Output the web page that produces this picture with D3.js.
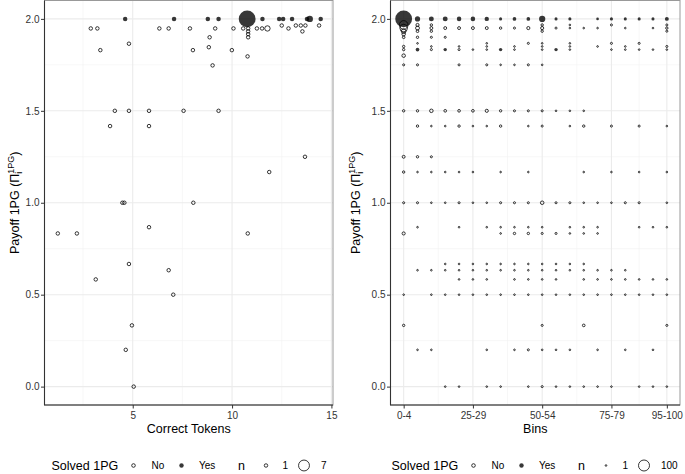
<!DOCTYPE html>
<html><head><meta charset="utf-8">
<script src="https://cdn.jsdelivr.net/npm/d3@7"></script>
<style>body{margin:0;background:#fff} text{font-family:"Liberation Sans",Arial,sans-serif}</style>
</head><body><svg id="c" width="685" height="474"></svg>
<script>
// ---------- data ----------
const yTicks = [0, 0.5, 1, 1.5, 2];
const yMinor = [0.25, 0.75, 1.25, 1.75];
const leftXTicks = [5, 10, 15];
const leftXMinor = [2.5, 7.5, 12.5];
const binLabels = ["0-4","5-9","10-14","15-19","20-24","25-29","30-34","35-39","40-44","45-49",
  "50-54","55-59","60-64","65-69","70-74","75-79","80-84","85-89","90-94","95-100"];
const rightTickIdx = [0, 5, 10, 15, 19];
const rightXMinor = [2.5, 7.5, 12.5, 17];
const legendLeftN = [1, 7];
const legendRightN = [1, 100];

// left panel: [correct tokens, payoff, n, solved(1=yes)]
const leftPoints = [
  [4.62,2,1,1],[7.08,2,1,1],[8.78,2,1,1],[9.32,2,1,1],[10.76,2,14,1],[11.53,2,1,1],
  [12.37,2,1,1],[12.57,2,1,1],[13.02,2,1,1],[13.77,2,1,1],[13.91,2,2,1],[14.46,2,1,1],
  [2.89,1.948,1,0],[3.22,1.948,1,0],[6.34,1.948,1,0],[6.81,1.948,1,0],[7.88,1.948,1,0],
  [9.15,1.948,1,0],[10.07,1.948,1,0],[10.56,1.948,1,0],[10.81,1.948,1,0],[11.25,1.948,1,0],
  [11.51,1.948,1,0],[11.78,1.948,2,0],[12.84,1.948,1,0],
  [12.5,1.964,1,0],[13.21,1.964,1,0],[13.46,1.964,1,0],[13.69,1.964,1,0],[14.38,1.964,1,0],
  [13.54,1.932,1,0],[10.81,1.932,1,0],[10.81,1.917,1,0],[10.81,1.9,1,0],[8.87,1.9,1,0],
  [4.81,1.865,1,0],[8.83,1.846,1,0],[3.37,1.83,1,0],[8.03,1.83,1,0],[9.99,1.83,1,0],
  [10.78,1.796,1,0],[9.02,1.747,1,0],
  [4.10,1.5,1,0],[4.81,1.5,1,0],[5.82,1.5,1,0],[7.56,1.5,1,0],[9.32,1.5,1,0],
  [3.86,1.417,1,0],[5.82,1.417,1,0],[13.67,1.25,1,0],[11.87,1.167,1,0],
  [4.48,1,1,0],[4.58,1,1,0],[8.05,1,1,0],[5.82,0.867,1,0],
  [1.23,0.833,1,0],[2.19,0.833,1,0],[10.79,0.833,1,0],
  [4.81,0.667,1,0],[6.81,0.633,1,0],[3.14,0.583,1,0],[7.04,0.5,1,0],
  [4.96,0.333,1,0],[4.65,0.2,1,0],[5.05,0,1,0]
];

// right panel: [bin index, payoff, n, solved(1=yes)]
const rightPoints = [
  [0,2,215,1],[0,1.967,60,0],[0,1.95,45,0],[0,1.933,15,0],[0,1.917,8,0],[0,1.9,4,0],[0,1.85,3,0],[0,1.833,3,0],[0,1.8,8,0],[0,1.75,2,0],[0,1.5,3,0],[0,1.25,5,0],[0,1.167,3,0],[0,1,2,0],[0,0.833,6,0],[0,0.5,1,0],[0,0.333,3,0],
  [1,2,12,1],[1,1.967,6,0],[1,1.95,10,0],[1,1.933,4,0],[1,1.9,3,0],[1,1.867,1,0],[1,1.833,4,1],[1,1.75,2,0],[1,1.5,3,0],[1,1.417,3,0],[1,1.25,3,0],[1,1.167,1,0],[1,1,2,0],[1,0.867,1,0],[1,0.633,1,0],[1,0.2,1,0],
  [2,2,10,1],[2,1.967,3,0],[2,1.95,5,0],[2,1.933,3,0],[2,1.9,2,0],[2,1.85,1,0],[2,1.833,2,0],[2,1.5,8,0],[2,1.417,1,0],[2,1.25,2,0],[2,1.167,1,0],[2,1,1,0],[2,0.633,1,0],[2,0.5,1,0],[2,0.2,1,0],
  [3,2,10,1],[3,1.95,5,0],[3,1.9,2,0],[3,1.833,3,1],[3,1.5,4,0],[3,1.417,1,0],[3,1.167,1,0],[3,1,1,0],[3,0.667,1,0],[3,0.633,1,0],[3,0.5,1,0],[3,0,1,0],
  [4,2,8,1],[4,1.95,5,0],[4,1.85,1,0],[4,1.833,2,0],[4,1.75,2,0],[4,1.5,4,0],[4,1.417,3,0],[4,1.167,1,0],[4,1,2,0],[4,0.867,1,0],[4,0.667,1,0],[4,0.633,1,0],[4,0.583,1,0],[4,0.5,1,0],[4,0,1,0],
  [5,2,8,1],[5,1.95,5,0],[5,1.833,1,0],[5,1.5,4,0],[5,1.417,1,0],[5,1.167,1,0],[5,1,1,0],[5,0.667,1,0],[5,0.633,1,0],[5,0.583,1,0],[5,0.5,1,0],
  [6,2,7,1],[6,1.95,5,0],[6,1.867,1,0],[6,1.85,1,0],[6,1.833,1,0],[6,1.75,2,0],[6,1.5,6,0],[6,1.417,1,0],[6,1,1,0],[6,0.867,1,0],[6,0.667,1,0],[6,0.633,1,0],[6,0.583,1,0],[6,0.5,1,0],[6,0.2,1,0],[6,0,1,0],
  [7,2,2,1],[7,1.95,3,0],[7,1.833,3,1],[7,1.75,1,0],[7,1.5,3,0],[7,1.417,3,0],[7,1.167,1,0],[7,1,2,0],[7,0.867,1,0],[7,0.833,1,0],[7,0.667,1,0],[7,0.633,1,0],[7,0.5,1,0],[7,0,1,0],
  [8,2,4,1],[8,1.95,2,0],[8,1.85,1,0],[8,1.833,1,0],[8,1.75,1,0],[8,1.5,2,0],[8,1,2,0],[8,0.867,1,0],[8,0.833,3,0],[8,0.667,1,0],[8,0.633,1,0],[8,0.583,1,0],[8,0.5,1,0],[8,0.2,1,0],
  [9,2,4,1],[9,1.95,6,0],[9,1.867,2,0],[9,1.75,2,0],[9,1.5,2,0],[9,1.417,1,0],[9,1.167,1,0],[9,1,2,0],[9,0.867,1,0],[9,0.833,3,0],[9,0.667,1,0],[9,0.633,1,0],[9,0.583,1,0],[9,0.5,1,0],[9,0.2,2,0],[9,0,1,0],
  [10,2,20,1],[10,1.967,3,0],[10,1.95,6,0],[10,1.933,3,0],[10,1.867,1,0],[10,1.85,1,0],[10,1.833,1,0],[10,1.75,1,0],[10,1.5,2,0],[10,1.417,2,0],[10,1,8,0],[10,0.867,1,0],[10,0.833,2,0],[10,0.667,1,0],[10,0.633,1,0],[10,0.583,1,0],[10,0.5,1,0],[10,0.333,2,0],[10,0.2,1,0],[10,0,2,0],
  [11,2,2,1],[11,1.95,2,0],[11,1.833,3,1],[11,1.5,1,0],[11,1,2,0],[11,0.833,2,0],[11,0.667,1,0],[11,0.633,1,0],[11,0.583,1,0],[11,0.5,1,0],[11,0.2,1,0],[11,0,1,0],
  [12,2,2,1],[12,1.967,1,0],[12,1.95,1,0],[12,1.867,1,0],[12,1.85,1,0],[12,1.833,1,0],[12,1.5,1,0],[12,1.417,1,0],[12,1,2,0],[12,0.867,1,0],[12,0.833,1,0],[12,0.667,1,0],[12,0.633,1,0],[12,0.5,1,0],[12,0.2,1,0],[12,0,1,0],
  [13,1.95,1,0],[13,1.5,1,0],[13,1.417,3,0],[13,1.167,1,0],[13,1,1,0],[13,0.867,1,0],[13,0.833,1,0],[13,0.667,1,0],[13,0.633,1,0],[13,0.583,1,0],[13,0.5,1,0],[13,0.333,4,0],[13,0,1,0],
  [14,2,1,1],[14,1.95,1,0],[14,1.85,1,0],[14,1,1,0],[14,0.867,1,0],[14,0.833,1,0],[14,0.633,1,0],[14,0.583,1,0],[14,0.5,1,0],[14,0.2,1,0],[14,0,1,0],
  [15,2,2,1],[15,1.967,2,0],[15,1.867,2,0],[15,1.833,1,0],[15,1.417,2,0],[15,1.167,1,0],[15,1,1,0],[15,0.633,1,0],[15,0.583,1,0],[15,0.5,1,0],[15,0,1,0],
  [16,2,2,1],[16,1.95,1,0],[16,1.85,1,0],[16,1.833,1,0],[16,1,2,0],[16,0.633,1,0],[16,0.583,1,0],[16,0.5,1,0],[16,0.2,1,0],
  [17,2,2,1],[17,1.867,2,0],[17,1.833,1,0],[17,1.417,2,0],[17,1.167,1,0],[17,1,2,0],[17,0.867,1,0],[17,0.583,1,0],[17,0.5,1,0],[17,0,1,0],
  [18,2,2,1],[18,1.95,1,0],[18,1.833,1,0],[18,0.867,1,0],[18,0.583,1,0],[18,0.5,1,0],[18,0.2,1,0],[18,0,1,0],
  [19,2,5,1],[19,1.967,2,0],[19,1.95,3,0],[19,1.933,2,0],[19,1.85,2,0],[19,1.833,1,0],[19,1.417,1,0],[19,1.167,1,0],[19,1,1,0],[19,0.867,1,0],[19,0.583,1,0],[19,0.5,1,0],[19,0.333,2,0],[19,0,1,0]
];

// ---------- drawing ----------
const svg = d3.select("#c");
const PT_ALPHA = 0.78, SW = 1;
const TICK_FONT = 10, TITLE_FONT = 12.5;

function drawPanel(o) {
  const g = svg.append("g");
  const [x0, x1] = o.x.range(), [y1, y0] = o.y.range();
  const grid = g.append("g");
  grid.selectAll(".ymin").data(yMinor).join("line")
    .attr("x1", x0).attr("x2", x1).attr("y1", d => o.y(d)).attr("y2", d => o.y(d))
    .attr("stroke", "#f2f2f2").attr("stroke-width", 0.6);
  grid.selectAll(".xmin").data(o.xMinor).join("line")
    .attr("y1", y0).attr("y2", y1).attr("x1", d => o.x(d)).attr("x2", d => o.x(d))
    .attr("stroke", "#f2f2f2").attr("stroke-width", 0.6);
  grid.selectAll(".ymaj").data(yTicks).join("line")
    .attr("x1", x0).attr("x2", x1).attr("y1", d => o.y(d)).attr("y2", d => o.y(d))
    .attr("stroke", "#ebebeb").attr("stroke-width", 1.1);
  grid.selectAll(".xmaj").data(o.xTicks).join("line")
    .attr("y1", y0).attr("y2", y1).attr("x1", d => o.x(d)).attr("x2", d => o.x(d))
    .attr("stroke", "#ebebeb").attr("stroke-width", 1.1);

  const pts = o.points.slice().sort((a, b) => a[3] - b[3]);
  g.append("g").selectAll("circle").data(pts).join("circle")
    .attr("cx", d => o.x(d[0])).attr("cy", d => o.y(d[1]))
    .attr("r", d => d[3] ? o.r(d[2]) : Math.max(0.55, o.r(d[2]) - SW / 2))
    .attr("fill", d => d[3] ? "#000" : "none")
    .attr("fill-opacity", PT_ALPHA)
    .attr("stroke", d => d[3] ? "none" : "#000")
    .attr("stroke-opacity", PT_ALPHA)
    .attr("stroke-width", SW);

  g.append("rect").attr("x", x0).attr("y", y0).attr("width", x1 - x0).attr("height", y1 - y0)
    .attr("fill", "none").attr("stroke", "#999").attr("stroke-width", 1);
  g.append("path").attr("d", `M${x0},${y0}V${y1}H${x1}`).attr("fill", "none")
    .attr("stroke", "#333").attr("stroke-width", 1.1);

  const ay = g.append("g").attr("transform", `translate(${x0},0)`)
    .call(d3.axisLeft(o.y).tickValues(yTicks).tickFormat(d3.format(".1f")).tickSize(3.5).tickPadding(1.5));
  const ax = g.append("g").attr("transform", `translate(0,${y1})`)
    .call(d3.axisBottom(o.x).tickValues(o.xTicks).tickFormat(o.xFormat).tickSize(3.5).tickPadding(2.9));
  [ay, ax].forEach(a => {
    a.select(".domain").remove();
    a.selectAll("line").attr("stroke", "#333").attr("stroke-width", 1);
    a.selectAll("text").attr("fill", "#333").style("font-size", TICK_FONT + "px")
      .style("font-family", '"Liberation Sans",Arial,sans-serif');
  });

  g.append("text").attr("x", (x0 + x1) / 2).attr("y", 433).attr("text-anchor", "middle")
    .style("font-size", TITLE_FONT + "px").attr("fill", "#000").text(o.xTitle);

  const yt = g.append("text").attr("transform", `translate(${o.yTitleX},${(y0 + y1) / 2}) rotate(-90)`)
    .attr("text-anchor", "middle").style("font-size", TITLE_FONT + "px").attr("fill", "#000");
  yt.append("tspan").text("Payoff 1PG (\u03A0");
  yt.append("tspan").attr("dy", 3).style("font-size", "9px").text("i");
  yt.append("tspan").attr("dx", -2).attr("dy", -8.5).style("font-size", "9px").text("1PG");
  yt.append("tspan").attr("dy", 5.5).text(")");

  const lg = g.append("g");
  const ly = 465.5;
  const lx = o.legendX;
  const txt = (x, s, fs) => lg.append("text").attr("x", x).attr("y", ly).attr("dy", "0.35em")
    .style("font-size", fs + "px").attr("fill", "#000").text(s);
  txt(lx, "Solved 1PG", TITLE_FONT);
  lg.append("circle").attr("cx", lx + 82).attr("cy", ly).attr("r", 1.8).attr("fill", "none")
    .attr("stroke", "#000").attr("stroke-opacity", PT_ALPHA).attr("stroke-width", SW);
  txt(lx + 100, "No", TICK_FONT);
  lg.append("circle").attr("cx", lx + 130).attr("cy", ly).attr("r", 2.2).attr("fill", "#000")
    .attr("fill-opacity", PT_ALPHA);
  txt(lx + 147.5, "Yes", TICK_FONT);
  txt(lx + 186.5, "n", TITLE_FONT);
  const [n1, n2] = o.legendN;
  lg.append("circle").attr("cx", lx + 214.5).attr("cy", ly).attr("r", Math.max(0.55, o.r(n1) - SW / 2))
    .attr("fill", "none").attr("stroke", "#000").attr("stroke-opacity", PT_ALPHA).attr("stroke-width", SW);
  txt(lx + 231, String(n1), TICK_FONT);
  lg.append("circle").attr("cx", lx + 252.5).attr("cy", ly).attr("r", o.r(n2) - SW / 2)
    .attr("fill", "none").attr("stroke", "#000").attr("stroke-opacity", PT_ALPHA).attr("stroke-width", SW);
  txt(lx + 269.5, String(n2), TICK_FONT);
}

const yL = d3.scaleLinear().domain([-0.1, 2.1]).range([405, 0.5]);

drawPanel({
  x: d3.scaleLinear().domain([0.56, 15.08]).range([44.5, 333]),
  y: yL,
  xTicks: leftXTicks, xMinor: leftXMinor, xFormat: d3.format("d"),
  points: leftPoints,
  r: d3.scaleSqrt().domain([0, 7]).range([0, 5.95]),
  xTitle: "Correct Tokens", yTitleX: 19, legendX: 51.5, legendN: legendLeftN
});

drawPanel({
  x: d3.scaleLinear().domain([-0.95, 19.95]).range([390.5, 680]),
  y: yL,
  xTicks: rightTickIdx, xMinor: rightXMinor, xFormat: i => binLabels[i],
  points: rightPoints,
  r: d3.scaleSqrt().domain([0, 100]).range([0.8, 6.0]),
  xTitle: "Bins", yTitleX: 360, legendX: 391.5, legendN: legendRightN
});
</script></body></html>
